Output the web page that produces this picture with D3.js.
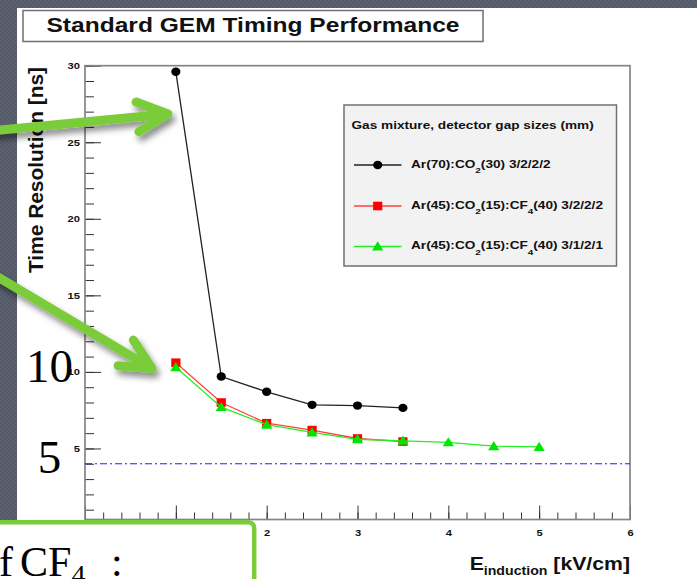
<!DOCTYPE html>
<html><head><meta charset="utf-8">
<script src="https://cdn.jsdelivr.net/npm/d3@7"></script>
<style>html,body{margin:0;padding:0;background:#fff;}svg{display:block;}</style>
</head><body>
<svg id="c" width="697" height="579"></svg>
<script>
// Induction field (kV/cm) and measured time resolution (ns) for each gas / gap set-up
const fieldArCO2 = [1.0, 1.5, 2.0, 2.5, 3.0, 3.5];
const resArCO2 = [29.6, 9.7, 8.7, 7.85, 7.8, 7.65];
const fieldCF4Std = [1.0, 1.5, 2.0, 2.5, 3.0, 3.5];
const resCF4Std = [10.6, 8.0, 6.65, 6.2, 5.65, 5.45];
const fieldCF4Narrow = [1.0, 1.5, 2.0, 2.5, 3.0, 3.5, 4.0, 4.5, 5.0];
const resCF4Narrow = [10.3, 7.7, 6.55, 6.05, 5.6, 5.5, 5.4, 5.15, 5.1];
const referenceLevel = 4;

// axis set-up
const xDomain = [0, 6];
const yDomain = [0.36, 30];
const xMajorTicks = [0, 1, 2, 3, 4, 5, 6];
const yMajorTicks = [5, 10, 15, 20, 25, 30];

// legend entries: [main, subscript] pairs
const legendTitle = "Gas mixture, detector gap sizes (mm)";
const legendLabels = [
  [["Ar(70):CO", "2"], ["(30) 3/2/2/2", ""]],
  [["Ar(45):CO", "2"], ["(15):CF", "4"], ["(40) 3/2/2/2", ""]],
  [["Ar(45):CO", "2"], ["(15):CF", "4"], ["(40) 3/1/2/1", ""]]
];

// slide call-out arrows (tail, tip) in data units
const arrowTails = [[-1.1, 25.7], [-1.1, 16.7]];
const arrowTips = [[0.913, 26.85], [0.738, 10.22]];

const SX = 1.24;             // horizontal stretch of the plot lettering
const SANS = "'Liberation Sans', Arial, Helvetica, sans-serif";
const SERIF = "'Liberation Serif', 'DejaVu Serif', serif";
const GREEN = "#7acc3a";

const svg = d3.select("#c");
const W = 697, H = 579;

// ---- slide background -------------------------------------------------
const defs = svg.append("defs");
const pat = defs.append("pattern").attr("id", "grain").attr("width", 4).attr("height", 4)
  .attr("patternUnits", "userSpaceOnUse");
pat.append("rect").attr("width", 4).attr("height", 4).attr("fill", "#545a67");
pat.append("rect").attr("width", 2).attr("height", 2).attr("fill", "#5b6170");
pat.append("rect").attr("x", 2).attr("y", 2).attr("width", 2).attr("height", 2).attr("fill", "#5b6170");

const shadow = defs.append("filter").attr("id", "shadow")
  .attr("x", "-30%").attr("y", "-30%").attr("width", "160%").attr("height", "160%");
shadow.append("feDropShadow").attr("dx", 3).attr("dy", 5).attr("stdDeviation", 3)
  .attr("flood-color", "#000").attr("flood-opacity", 0.45);

svg.append("rect").attr("width", W).attr("height", H).attr("fill", "#fff");
svg.append("rect").attr("width", W).attr("height", 8).attr("fill", "url(#grain)");
svg.append("rect").attr("width", 17).attr("height", H).attr("fill", "url(#grain)");

// ---- scales -----------------------------------------------------------
const x = d3.scaleLinear().domain(xDomain).range([85, 630]);
const y = d3.scaleLinear().domain(yDomain).range([519.5, 65.7]);

// ---- title box --------------------------------------------------------
svg.append("rect").attr("x", 23).attr("y", 10.5).attr("width", 460).attr("height", 31)
  .attr("fill", "#fff").attr("stroke", "#6f6f6f").attr("stroke-width", 1.5);
svg.append("text").attr("transform", `translate(253,31.5) scale(1.26,1)`)
  .attr("text-anchor", "middle").attr("font-family", SANS).attr("font-weight", "bold")
  .attr("font-size", 19.5).attr("fill", "#111").text("Standard GEM Timing Performance");

// ---- axes ---------------------------------------------------------------
function styleAxis(g) {
  g.select(".domain").remove();
  g.selectAll(".tick line").attr("stroke", "#333").attr("stroke-width", 1);
  g.selectAll(".tick text").attr("font-family", SANS).attr("font-weight", "bold")
    .attr("font-size", 9).attr("fill", "#111");
}

svg.append("g").attr("transform", `translate(0,${y(yDomain[0])})`)
  .call(d3.axisBottom(x).tickValues(d3.range(0, 30).map(i => i * 0.2)).tickSize(-7).tickFormat(""))
  .call(styleAxis);
const gx = svg.append("g").attr("transform", `translate(0,${y(yDomain[0])})`)
  .call(d3.axisBottom(x).tickValues(xMajorTicks).tickSize(-14).tickPadding(10).tickFormat(d3.format("d")))
  .call(styleAxis);
gx.selectAll(".tick text").attr("transform", `scale(${SX},1)`);

svg.append("g").attr("transform", `translate(${x(xDomain[0])},0)`)
  .call(d3.axisLeft(y).tickValues(d3.range(1, 31)).tickSize(-9).tickFormat(""))
  .call(styleAxis);
const gy = svg.append("g").attr("transform", `translate(${x(xDomain[0])},0)`)
  .call(d3.axisLeft(y).tickValues(yMajorTicks).tickSize(-16).tickPadding(5).tickFormat(d3.format("d")))
  .call(styleAxis);
gy.selectAll(".tick text").attr("x", -5 / SX).attr("transform", `scale(${SX},1)`);

// frame
svg.append("rect").attr("x", x(xDomain[0])).attr("y", y(yDomain[1]))
  .attr("width", x(xDomain[1]) - x(xDomain[0])).attr("height", y(yDomain[0]) - y(yDomain[1]))
  .attr("fill", "none").attr("stroke", "#858585").attr("stroke-width", 1.7);

// reference level
svg.append("line").attr("x1", x(xDomain[0])).attr("x2", x(xDomain[1]))
  .attr("y1", y(referenceLevel)).attr("y2", y(referenceLevel))
  .attr("stroke", "#1a1aff").attr("stroke-width", 1).attr("stroke-dasharray", "7,3,2,3");

// axis titles
const xt = svg.append("text").attr("transform", `translate(630,570) scale(1.18,1)`)
  .attr("text-anchor", "end").attr("font-family", SANS).attr("font-weight", "bold")
  .attr("font-size", 18).attr("fill", "#111");
xt.append("tspan").text("E");
xt.append("tspan").attr("font-size", 12).attr("dy", 5).text("induction");
xt.append("tspan").attr("dy", -5).text(" [kV/cm]");

svg.append("text").attr("transform", "translate(43,67) rotate(-90)")
  .attr("text-anchor", "end").attr("font-family", SANS).attr("font-weight", "bold")
  .attr("font-size", 19.5).attr("fill", "#111")
  .attr("textLength", 206).attr("lengthAdjust", "spacingAndGlyphs")
  .text("Time Resolution [ns]");

// ---- series -------------------------------------------------------------
const line = d3.line().x(d => x(d[0])).y(d => y(d[1]));
const triPath = "M0,-5.2L5.6,4L-5.6,4Z";

function addMarker(g, cx, cy, color, marker) {
  if (marker === "circle") {
    g.append("ellipse").attr("cx", cx).attr("cy", cy).attr("rx", 4.6).attr("ry", 4.2).attr("fill", color);
  } else if (marker === "square") {
    g.append("rect").attr("x", cx - 4.6).attr("y", cy - 4.3).attr("width", 9.2).attr("height", 8.6)
      .attr("fill", color);
  } else {
    g.append("path").attr("transform", `translate(${cx},${cy})`).attr("d", triPath).attr("fill", color);
  }
}

function drawSeries(xs, ys, color, lineColor, marker) {
  const pts = xs.map((v, i) => [v, ys[i]]);
  svg.append("path").datum(pts).attr("d", line).attr("fill", "none")
    .attr("stroke", lineColor).attr("stroke-width", 1.3);
  const g = svg.append("g");
  pts.forEach(p => addMarker(g, x(p[0]), y(p[1]), color, marker));
}

drawSeries(fieldArCO2, resArCO2, "#000", "#222", "circle");
drawSeries(fieldCF4Std, resCF4Std, "#ff0000", "#ff4040", "square");
drawSeries(fieldCF4Narrow, resCF4Narrow, "#00e600", "#22ee22", "triangle");

// ---- legend -------------------------------------------------------------
const lg = svg.append("g");
lg.append("rect").attr("x", 344).attr("y", 105).attr("width", 272.5).attr("height", 161)
  .attr("fill", "#f2f2f2").attr("stroke", "#707070").attr("stroke-width", 1.5);
lg.append("text").attr("transform", `translate(351.5,129) scale(${SX},1)`)
  .attr("font-family", SANS).attr("font-weight", "bold").attr("font-size", 11).attr("fill", "#111")
  .text(legendTitle);

const legendStyle = [
  ["#000", "#222", "circle"], ["#ff0000", "#ff4040", "square"], ["#00e600", "#22ee22", "triangle"]
];
const rowY = [165, 206, 246.5];
const SUB_DROP = 5.5;
legendLabels.forEach((parts, i) => {
  const cy = rowY[i];
  lg.append("line").attr("x1", 354).attr("x2", 401.5).attr("y1", cy).attr("y2", cy)
    .attr("stroke", legendStyle[i][1]).attr("stroke-width", 1.3);
  addMarker(lg, 377.7, cy, legendStyle[i][0], legendStyle[i][2]);
  const t = lg.append("text").attr("transform", `translate(411,${cy + 2.6}) scale(${SX},1)`)
    .attr("font-family", SANS).attr("font-weight", "bold").attr("font-size", 11).attr("fill", "#111");
  let shift = 0;
  parts.forEach(([main, sub]) => {
    t.append("tspan").attr("font-size", 11).attr("dy", -shift).text(main);
    shift = 0;
    if (sub) {
      t.append("tspan").attr("font-size", 8).attr("dy", SUB_DROP).text(sub);
      shift = SUB_DROP;
    }
  });
});

// ---- slide overlays -----------------------------------------------------
svg.append("text").attr("x", 49.5).attr("y", 382).attr("text-anchor", "middle")
  .attr("font-family", SERIF).attr("font-size", 47).attr("fill", "#000").text("10");
svg.append("text").attr("x", 49.5).attr("y", 473).attr("text-anchor", "middle")
  .attr("font-family", SERIF).attr("font-size", 47).attr("fill", "#000").text("5");

const ag = svg.append("g").attr("filter", "url(#shadow)");
arrowTails.forEach((tail, i) => {
  const tip = arrowTips[i];
  const x0 = x(tail[0]), y0 = y(tail[1]), x1 = x(tip[0]), y1 = y(tip[1]);
  const ang = Math.atan2(y0 - y1, x0 - x1);
  const len = 34, spread = 26 * Math.PI / 180;
  const b1 = [x1 + len * Math.cos(ang - spread), y1 + len * Math.sin(ang - spread)];
  const b2 = [x1 + len * Math.cos(ang + spread), y1 + len * Math.sin(ang + spread)];
  ag.append("path")
    .attr("d", `M${x0},${y0}L${x1},${y1}M${b1[0]},${b1[1]}L${x1},${y1}L${b2[0]},${b2[1]}`)
    .attr("fill", "none").attr("stroke", GREEN).attr("stroke-width", 9)
    .attr("stroke-linecap", "round").attr("stroke-linejoin", "round");
});

// text box at the bottom of the slide
svg.append("rect").attr("x", -12).attr("y", 522.2).attr("width", 266.2).attr("height", 90).attr("rx", 6)
  .attr("fill", "#fff").attr("stroke", GREEN).attr("stroke-width", 4.5);
svg.append("text").attr("x", 13).attr("y", 576).attr("text-anchor", "end")
  .attr("font-family", SERIF).attr("font-size", 42).attr("fill", "#000").text("of");
const ct = svg.append("text").attr("x", 20).attr("y", 576)
  .attr("font-family", SERIF).attr("font-size", 42).attr("fill", "#000");
ct.append("tspan").text("CF");
ct.append("tspan").attr("font-size", 28).attr("dy", 8).text("4");
ct.append("tspan").attr("x", 111).attr("dy", -8).text(":");
</script>
</body></html>
